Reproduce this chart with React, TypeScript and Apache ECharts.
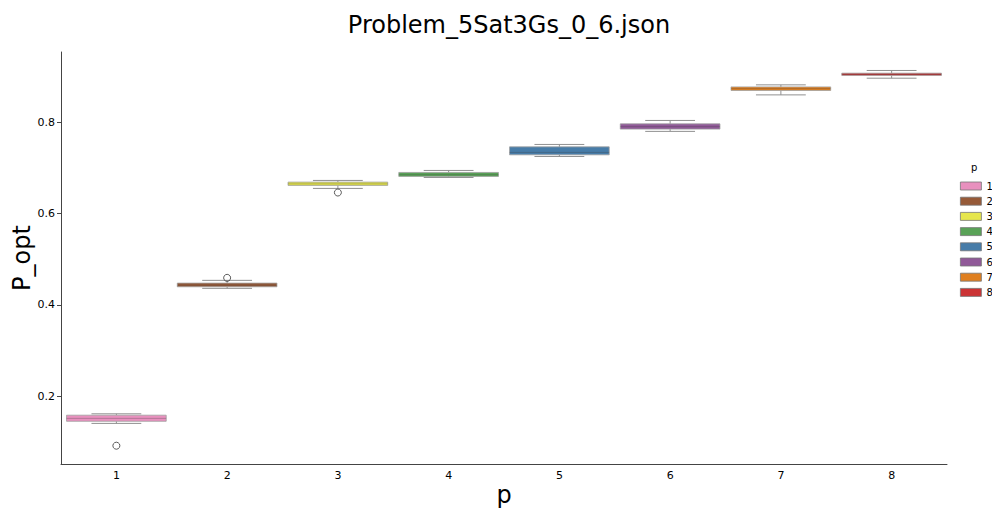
import React, { useEffect, useRef } from "react";
import * as echarts from "echarts";

const categories = ["1", "2", "3", "4", "5", "6", "7", "8"];
const whiskerLow = [0.14, 0.436, 0.655, 0.679, 0.725, 0.78, 0.86, 0.8966];
const q1 = [0.1446, 0.4394, 0.6616, 0.6813, 0.7286, 0.785, 0.8697, 0.9027];
const median = [0.151, 0.443, 0.665, 0.685, 0.734, 0.7904, 0.8736, 0.905];
const q3 = [0.158, 0.4475, 0.6688, 0.69, 0.7461, 0.7965, 0.8775, 0.9076];
const whiskerHigh = [0.161, 0.4535, 0.6725, 0.6944, 0.7514, 0.804, 0.882, 0.9135];
const outliers: [number, number][] = [
  [0, 0.0911],
  [1, 0.459],
  [2, 0.646],
];
const yTicks = [0.2, 0.4, 0.6, 0.8];
const colors = ["#e890be", "#965a38", "#e6e64d", "#59a257", "#477ca8", "#905998", "#df7f20", "#cb3335"];

const FONT = "DejaVu Sans";
const EDGE = "#a0a0a0";
const WHISK = "#909090";

export default function App() {
  const ref = useRef<HTMLDivElement>(null);
  useEffect(() => {
    document.body.style.margin = "0";
    const chart = echarts.init(ref.current!, null, { renderer: "svg" });
    const renderItem = (params: any, api: any) => {
      const x = api.value(0);
      const lo = api.coord([x, api.value(1)]);
      const b1 = api.coord([x, api.value(2)]);
      const md = api.coord([x, api.value(3)]);
      const b3 = api.coord([x, api.value(4)]);
      const hi = api.coord([x, api.value(5)]);
      const band = api.size([1, 0])[0];
      const bw = band * 0.9;
      const cw = bw * 0.5;
      const cx = md[0];
      const color = colors[params.seriesIndex];
      const ls = { stroke: WHISK, lineWidth: 1 };
      return {
        type: "group",
        children: [
          { type: "line", shape: { x1: cx, y1: b3[1], x2: cx, y2: hi[1] }, style: ls },
          { type: "line", shape: { x1: cx, y1: b1[1], x2: cx, y2: lo[1] }, style: ls },
          { type: "line", shape: { x1: cx - cw / 2, y1: hi[1], x2: cx + cw / 2, y2: hi[1] }, style: ls },
          { type: "line", shape: { x1: cx - cw / 2, y1: lo[1], x2: cx + cw / 2, y2: lo[1] }, style: ls },
          {
            type: "rect",
            shape: { x: cx - bw / 2, y: b3[1], width: bw, height: b1[1] - b3[1] },
            style: { fill: color, stroke: EDGE, lineWidth: 0.8 },
          },
          {
            type: "line",
            shape: { x1: cx - bw / 2, y1: md[1], x2: cx + bw / 2, y2: md[1] },
            style: { stroke: "rgba(60,60,60,0.3)", lineWidth: 1 },
          },
        ],
      };
    };
    const boxSeries = categories.map((c, i) => ({
      name: c,
      type: "custom",
      renderItem,
      itemStyle: { color: colors[i] },
      encode: { x: 0, y: [1, 2, 3, 4, 5] },
      data: [[i, whiskerLow[i], q1[i], median[i], q3[i], whiskerHigh[i]]],
    }));
    chart.setOption({
      animation: false,
      textStyle: { fontFamily: FONT },
      title: {
        text: "Problem_5Sat3Gs_0_6.json",
        left: 504,
        textAlign: "center",
        top: 8,
        textStyle: { fontFamily: FONT, fontSize: 24, fontWeight: "normal", color: "#000" },
      },
      grid: { left: 61, right: 45, top: 52, bottom: 46, containLabel: false, outerBoundsMode: "none" },
      legend: {
        data: categories,
        orient: "vertical",
        left: 955,
        top: 176,
        itemWidth: 21,
        itemHeight: 8,
        itemGap: 5.2,
        icon: "rect",
        itemStyle: { borderColor: "#777", borderWidth: 0.8 },
        textStyle: { fontFamily: FONT, fontSize: 10, color: "#000" },
      },
      graphic: [
        {
          type: "text",
          left: 971,
          top: 162,
          style: { text: "p", fontFamily: FONT, fontSize: 10, fill: "#000" },
        },
      ],
      xAxis: {
        type: "category",
        data: categories,
        name: "p",
        nameLocation: "middle",
        nameGap: 19,
        nameMoveOverlap: false,
        nameTextStyle: { fontFamily: FONT, fontSize: 24, color: "#000" },
        axisLine: { lineStyle: { color: "#444", width: 1 } },
        axisTick: { alignWithLabel: true, length: 4, lineStyle: { color: "#444" } },
        axisLabel: { fontFamily: FONT, fontSize: 11, color: "#000", margin: 6 },
        splitLine: { show: false },
      },
      yAxis: {
        type: "value",
        min: 0.051,
        max: 0.954,
        name: "P_opt",
        nameLocation: "middle",
        nameGap: 27,
        nameMoveOverlap: false,
        nameTextStyle: { fontFamily: FONT, fontSize: 24, color: "#000" },
        axisLine: { show: true, lineStyle: { color: "#444", width: 1 } },
        axisTick: { show: true, length: 4, customValues: yTicks, lineStyle: { color: "#444" } },
        axisLabel: {
          fontFamily: FONT,
          fontSize: 11,
          color: "#000",
          margin: 6,
          customValues: yTicks,
          formatter: (v: number) => v.toFixed(1),
        },
        splitLine: { show: false },
      },
      series: [
        ...boxSeries,
        {
          name: "outliers",
          type: "scatter",
          symbol: "circle",
          symbolSize: 7,
          itemStyle: { color: "rgba(255,255,255,0)", borderColor: "#333", borderWidth: 1 },
          data: outliers,
          z: 5,
        },
      ],
    });
    return () => chart.dispose();
  }, []);
  return <div ref={ref} style={{ width: 992, height: 510 }} />;
}
